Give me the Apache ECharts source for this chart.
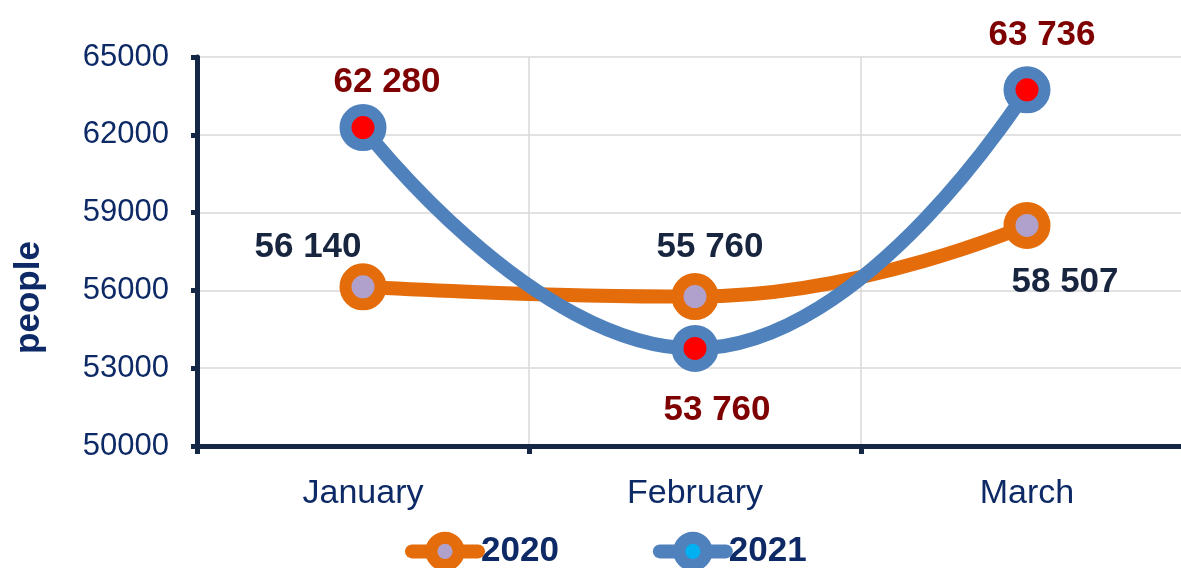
<!DOCTYPE html>
<html>
<head>
<meta charset="utf-8">
<script src="https://cdn.jsdelivr.net/npm/echarts@6/dist/echarts.min.js"></script>
<style>
  html, body { margin: 0; padding: 0; background: #fff; }
  #main { width: 1181px; height: 568px; }
</style>
</head>
<body>
<div id="main"></div>
<script>
  // data
  var months = ['January', 'February', 'March'];
  var people2020 = [56140, 55760, 58507];
  var people2021 = [62280, 53760, 63736];
  var labelPos2020 = ['top', 'top', 'bottom'];
  var labelPos2021 = ['top', 'bottom', 'top'];

  var navy = '#0d2a66';
  var font = 'Arial, "Liberation Sans", sans-serif';

  // 56140 -> "56 140"
  function spaced(v) {
    return String(v).replace(/\B(?=(\d{3})+(?!\d))/g, ' ');
  }

  function points(values, positions, offsets) {
    return values.map(function (v, i) {
      return { value: v, label: { position: positions[i], offset: offsets[i] } };
    });
  }

  var myChart = echarts.init(document.getElementById('main'));
  myChart.setOption({
    animation: false,
    grid: { left: 197, top: 57, width: 996, height: 389, outerBoundsMode: 'none', containLabel: false },
    legend: {
      bottom: -8,
      left: 400,
      itemGap: 94,
      itemWidth: 66,
      itemHeight: 34,
      lineStyle: { width: 14, cap: 'round' },
      itemStyle: { borderWidth: 12 },
      textStyle: { color: navy, fontFamily: font, fontWeight: 'bold', fontSize: 35, padding: [0, 0, 0, -2] },
      data: ['2020', { name: '2021', itemStyle: { color: '#00b0f0' } }]
    },
    xAxis: {
      type: 'category',
      data: months,
      boundaryGap: true,
      axisLine: { lineStyle: { color: '#142846', width: 5 } },
      axisTick: { show: true, length: 8, lineStyle: { color: '#142846', width: 5 } },
      axisLabel: { color: navy, fontFamily: font, fontSize: 34, margin: 31 },
      splitLine: { show: true, lineStyle: { color: '#d9d9d9', width: 1.5 } }
    },
    yAxis: {
      type: 'value',
      min: 50000,
      max: 65000,
      interval: 3000,
      name: 'people',
      nameLocation: 'middle',
      nameGap: 150,
      nameTextStyle: { color: navy, fontFamily: font, fontWeight: 'bold', fontSize: 35, padding: [0, 92, 0, 0] },
      axisLine: { show: true, lineStyle: { color: '#142846', width: 5 } },
      axisTick: { show: true, length: 6, lineStyle: { color: '#142846', width: 5 } },
      axisLabel: {
        color: navy, fontFamily: font, fontSize: 31, margin: 28,
        formatter: function (v) { return String(v); }
      },
      splitLine: { show: true, lineStyle: { color: '#d9d9d9', width: 1.5 } }
    },
    series: [
      {
        name: '2020',
        type: 'line',
        smooth: true,
        data: points(people2020, labelPos2020, [[-55, 10], [15, 0], [38, 8]]),
        symbol: 'circle',
        symbolSize: 35,
        lineStyle: { color: '#e46c0a', width: 14 },
        itemStyle: { color: '#b0a1cc', borderColor: '#e46c0a', borderWidth: 12 },
        label: {
          show: true,
          formatter: function (p) { return spaced(p.value); },
          color: '#17253f',
          fontFamily: font,
          fontWeight: 'bold',
          fontSize: 35,
          distance: 8
        },
        z: 2
      },
      {
        name: '2021',
        type: 'line',
        smooth: true,
        data: points(people2021, labelPos2021, [[24, 4], [22, 13], [15, -5]]),
        symbol: 'circle',
        symbolSize: 35,
        lineStyle: { color: '#4f81bd', width: 14 },
        itemStyle: { color: '#ff0000', borderColor: '#4f81bd', borderWidth: 12 },
        label: {
          show: true,
          formatter: function (p) { return spaced(p.value); },
          color: '#7f0000',
          fontFamily: font,
          fontWeight: 'bold',
          fontSize: 35,
          distance: 8
        },
        z: 3
      }
    ]
  });
</script>
</body>
</html>
